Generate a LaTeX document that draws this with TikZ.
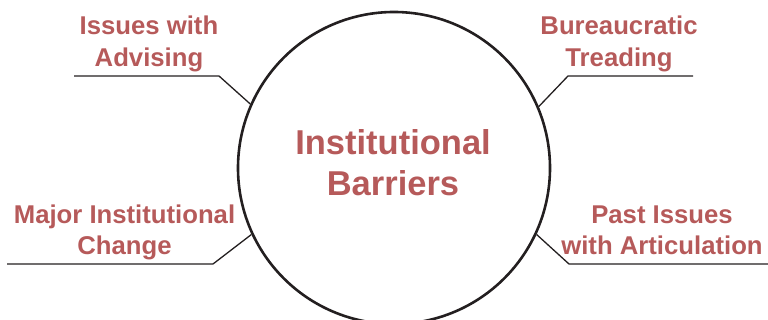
\documentclass[tikz,border=0pt]{standalone}
\usepackage{fontspec}
\setmainfont{Liberation Sans}
\definecolor{labred}{HTML}{B65A5A}
\definecolor{ink}{HTML}{231F20}
\begin{document}
\begin{tikzpicture}[x=1pt,y=-1pt,
  lab/.style={font=\bfseries\fontsize{25.7}{31.5}\selectfont, text=labred, align=center, inner sep=0pt, anchor=base},
  ttl/.style={font=\bfseries\fontsize{34.5}{41}\selectfont, text=labred, align=center, inner sep=0pt, anchor=base},
  conn/.style={draw=ink, line width=1.3pt}]
\useasboundingbox (0,0) rectangle (768,320);
\node (c) [circle, draw=ink, line width=2.6pt, minimum size=312pt, inner sep=0pt] at (394,168) {};
\node (title) [ttl] at (393,196) {Institutional\\Barriers};
\node (adv) [lab] at (149,66.5) {Issues with\\Advising};
\node (bur) [lab] at (619,66.5) {Bureaucratic\\Treading};
\node (maj) [lab] at (124.5,255) {Major Institutional\\Change};
\node (art) [lab] at (662,255) {Past Issues\\with Articulation};
\coordinate (advk) at (219,76);
\coordinate (adve) at (74,76);
\coordinate (burk) at (568,76);
\coordinate (bure) at (693,76);
\coordinate (majk) at (213,264);
\coordinate (maje) at (7,264);
\coordinate (artk) at (569,264);
\coordinate (arte) at (768,264);
\draw[conn] (c.156.4) -- (advk) -- (adve);
\draw[conn] (c.23.3) -- (burk) -- (bure);
\draw[conn] (c.205.1) -- (majk) -- (maje);
\draw[conn] (c.-25.1) -- (artk) -- (arte);
\end{tikzpicture}
\end{document}
